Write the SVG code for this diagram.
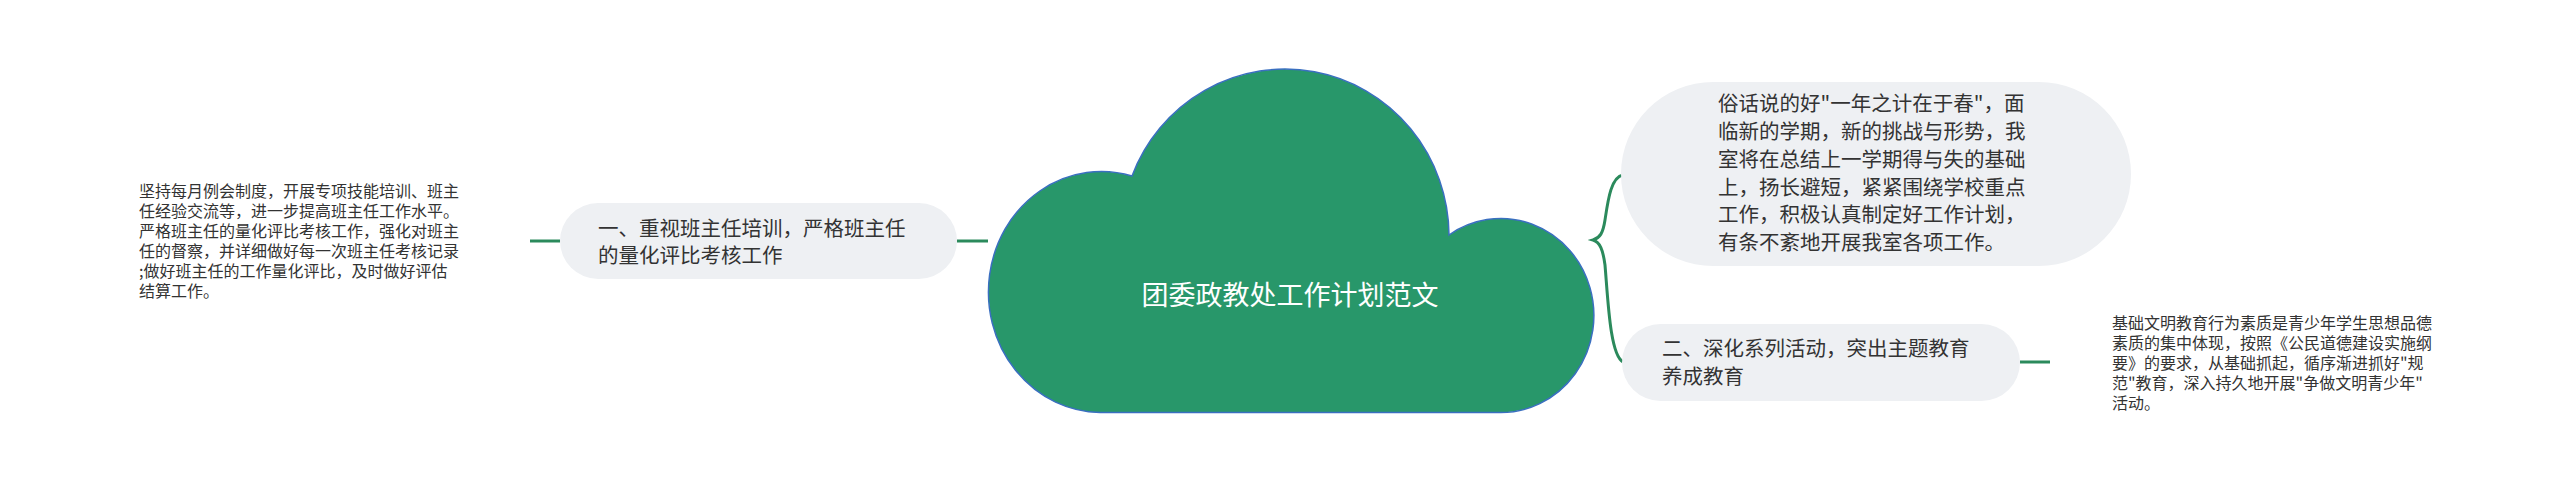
<svg xmlns="http://www.w3.org/2000/svg" width="2560" height="491" viewBox="0 0 2560 491">
<style>
.t{font-family:"Noto Sans CJK SC","Noto Sans",sans-serif;fill:#333333}
.n{font-size:20.5px}
.l{font-size:16px}
.box{fill:#eef0f3}
.ln{stroke:#2b8a5c;stroke-width:3;fill:none}
</style>
<rect width="2560" height="491" fill="#ffffff"/>
<g id="connectors">
<line class="ln" x1="957" y1="241" x2="988" y2="241"/>
<line class="ln" x1="530" y1="241" x2="560" y2="241"/>
<path class="ln" d="M1623,175 C1611,177 1608,200 1605,220 C1603,233 1600,238 1593,240 C1600,242 1603,250 1605,265 C1608,300 1610,355 1623,362"/>
<line class="ln" x1="2020" y1="362" x2="2050" y2="362"/>
</g>
<g id="root">
<path d="M1100,412.5 A113,120.5 0 1 1 1132,176 A164,167 0 0 1 1449,235 A93,97 0 1 1 1500,412.5 Z" fill="#28976a" stroke="#3a6fc0" stroke-width="1.5"/>
<text class="t" x="1290" y="305" text-anchor="middle" font-size="27" style="fill:#ffffff">团委政教处工作计划范文</text>
</g>
<g id="node-left">
<rect class="box" x="560" y="203" width="397" height="76" rx="38"/>
<text class="t n" x="598" y="236">一、重视班主任培训，严格班主任</text>
<text class="t n" x="598" y="263">的量化评比考核工作</text>
</g>
<g id="leaf-left">
<text class="t l" x="139" y="197">坚持每月例会制度，开展专项技能培训、班主</text>
<text class="t l" x="139" y="217">任经验交流等，进一步提高班主任工作水平。</text>
<text class="t l" x="139" y="237">严格班主任的量化评比考核工作，强化对班主</text>
<text class="t l" x="139" y="257">任的督察，并详细做好每一次班主任考核记录</text>
<text class="t l" x="139" y="277">;做好班主任的工作量化评比，及时做好评估</text>
<text class="t l" x="139" y="297">结算工作。</text>
</g>
<g id="node-top-right">
<rect class="box" x="1621" y="82" width="510" height="184" rx="92"/>
<text class="t n" x="1718" y="111">俗话说的好"一年之计在于春"，面</text>
<text class="t n" x="1718" y="139">临新的学期，新的挑战与形势，我</text>
<text class="t n" x="1718" y="167">室将在总结上一学期得与失的基础</text>
<text class="t n" x="1718" y="195">上，扬长避短，紧紧围绕学校重点</text>
<text class="t n" x="1718" y="222">工作，积极认真制定好工作计划，</text>
<text class="t n" x="1718" y="250">有条不紊地开展我室各项工作。</text>
</g>
<g id="node-bottom-right">
<rect class="box" x="1622" y="324" width="398" height="77" rx="38.5"/>
<text class="t n" x="1662" y="356">二、深化系列活动，突出主题教育</text>
<text class="t n" x="1662" y="384">养成教育</text>
</g>
<g id="leaf-right">
<text class="t l" x="2112" y="329">基础文明教育行为素质是青少年学生思想品德</text>
<text class="t l" x="2112" y="349">素质的集中体现，按照《公民道德建设实施纲</text>
<text class="t l" x="2112" y="369">要》的要求，从基础抓起，循序渐进抓好"规</text>
<text class="t l" x="2112" y="389">范"教育，深入持久地开展"争做文明青少年"</text>
<text class="t l" x="2112" y="409">活动。</text>
</g>
</svg>
